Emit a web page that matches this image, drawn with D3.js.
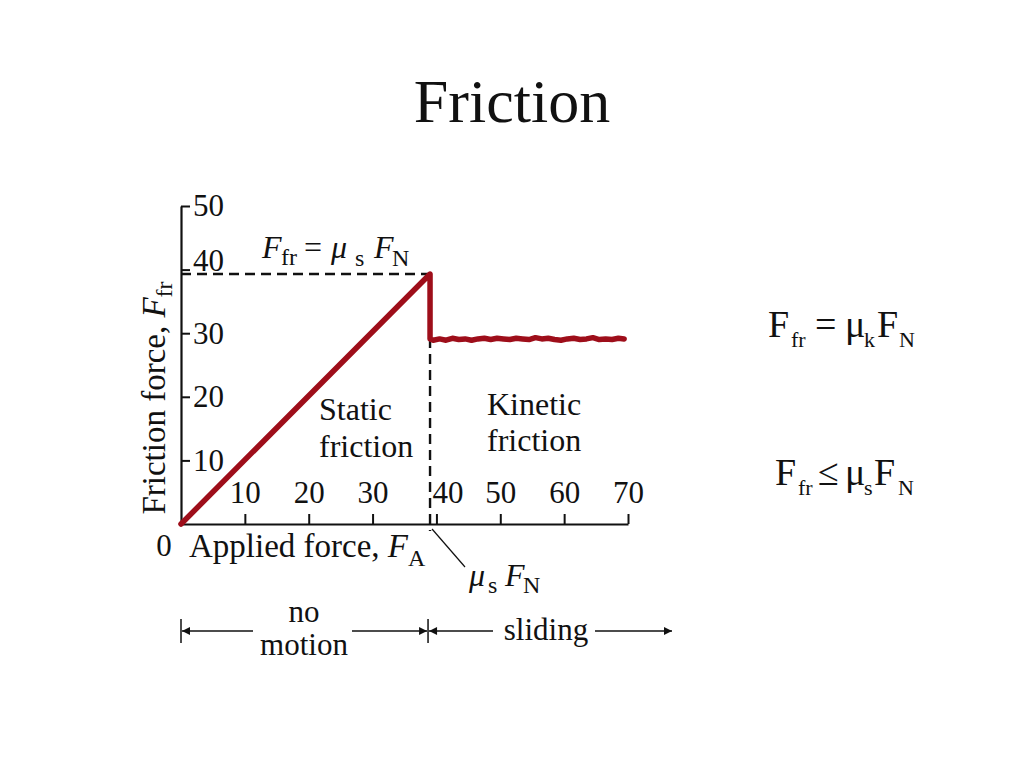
<!DOCTYPE html>
<html>
<head>
<meta charset="utf-8">
<script src="https://cdn.jsdelivr.net/npm/d3@7"></script>
<style>
  html, body { margin: 0; padding: 0; background: #fff; }
  svg { display: block; }
  text { font-family: "Liberation Serif", "Times New Roman", serif; fill: #111; }
</style>
</head>
<body>
<svg id="chart" width="1024" height="768"></svg>
<script>
// ---- data ----
const xTicks = [10, 20, 30, 40, 50, 60, 70];
const yTicks = [10, 20, 30, 40, 50];
const staticX = [0, 39.0];
const staticY = [0, 39.3];
const kineticX = [39.0, 39.5, 40.5, 41.5, 42.5, 43.5, 44.5, 45.5, 46.5, 47.5, 48.5, 49.5, 50.5, 51.5, 52.5, 53.5,
                  54.5, 55.5, 56.5, 57.5, 58.5, 59.5, 60.5, 61.5, 62.5, 63.5, 64.5, 65.5, 66.5, 67.5, 68.5, 69.4];
const kineticY = [29.1, 28.9, 29.1, 28.9, 29.2, 29.0, 29.1, 28.9, 29.1, 29.2, 29.0, 29.2, 29.1, 29.0, 29.2, 29.1,
                  29.0, 29.3, 29.1, 29.2, 29.0, 28.9, 29.1, 29.2, 29.0, 29.1, 29.3, 29.0, 29.1, 29.0, 29.2, 29.1];
const staticPeak = 39.3;   // mu_s F_N
const breakX = 39.0;       // applied force at which sliding starts

const red = "#9e0e1a";
const svg = d3.select("#chart");

const x = d3.scaleLinear().domain([0, 70]).range([181, 628]);
const y = d3.scaleLinear().domain([0, 50]).range([524, 206]);

// Title
svg.append("text").attr("x", 512).attr("y", 122).attr("text-anchor", "middle")
  .style("font-size", "62px").text("Friction");

// Y axis (ticks inward, labels to the right)
const gy = svg.append("g").attr("transform", `translate(${x(0)},0)`)
  .call(d3.axisRight(y).tickValues(yTicks).tickSize(9).tickSizeOuter(0).tickPadding(3).tickFormat(d3.format("d")));
gy.select(".domain").attr("stroke", "#111").attr("stroke-width", 2.2);
gy.selectAll(".tick line").attr("stroke", "#111").attr("stroke-width", 2);
gy.selectAll(".tick text").style("font-size", "31px").attr("fill", "#111").attr("font-family", null)
  .attr("y", d => d === 40 ? -9 : 0);

// X axis (ticks inward/up, labels above)
const gx = svg.append("g").attr("transform", `translate(0,${y(0)})`)
  .call(d3.axisTop(x).tickValues(xTicks).tickSize(10).tickSizeOuter(0).tickPadding(11).tickFormat(d3.format("d")));
gx.select(".domain").attr("stroke", "#111").attr("stroke-width", 2.2);
gx.selectAll(".tick line").attr("stroke", "#111").attr("stroke-width", 2);
gx.selectAll(".tick text").style("font-size", "31px").attr("fill", "#111").attr("font-family", null)
  .attr("dx", d => d === 40 ? 11 : 0);

// origin label
svg.append("text").attr("x", 164).attr("y", 556).attr("text-anchor", "middle")
  .style("font-size", "31px").text("0");

// Dashed guides
svg.append("line").attr("x1", x(0)).attr("x2", x(breakX)).attr("y1", y(staticPeak)).attr("y2", y(staticPeak))
  .attr("stroke", "#111").attr("stroke-width", 2.4).attr("stroke-dasharray", "10,6");
svg.append("line").attr("x1", x(breakX)).attr("x2", x(breakX)).attr("y1", y(staticPeak)).attr("y2", y(0) + 7)
  .attr("stroke", "#111").attr("stroke-width", 2.4).attr("stroke-dasharray", "10,6");

// Friction curve
const pts = staticX.map((d, i) => [d, staticY[i]])
  .concat(kineticX.map((d, i) => [d, kineticY[i]]));
const line = d3.line().x(d => x(d[0])).y(d => y(d[1]));
svg.append("path").attr("d", line(pts)).attr("fill", "none")
  .attr("stroke", red).attr("stroke-width", 5.5).attr("stroke-linejoin", "round").attr("stroke-linecap", "round");

// Y axis label
const ylab = svg.append("text").attr("transform", "translate(165,398) rotate(-90)")
  .attr("text-anchor", "middle").style("font-size", "33px");
ylab.append("tspan").text("Friction force, ");
ylab.append("tspan").style("font-style", "italic").text("F");
ylab.append("tspan").attr("dy", 7).style("font-size", "24px").text("fr");

// X axis label
const xlab = svg.append("text").attr("x", 189).attr("y", 557).style("font-size", "33px");
xlab.append("tspan").text("Applied force, ");
xlab.append("tspan").style("font-style", "italic").text("F");
xlab.append("tspan").attr("dy", 9).style("font-size", "24px").text("A");

// helper: place pieces of a formula explicitly
function pieces(list) {
  list.forEach(p => {
    svg.append("text").attr("x", p[0]).attr("y", p[1])
      .style("font-size", p[3] + "px").style("font-style", p[4] ? "italic" : "normal").text(p[2]);
  });
}
// In-chart equation F_fr = mu_s F_N
pieces([
  [262, 258, "F", 32, true], [281, 265, "fr", 24, false], [304, 258, "=", 32, false],
  [331, 258, "μ", 32, true], [355, 266, "s", 24, false], [374, 258, "F", 32, true], [392, 266, "N", 24, false]
]);

// Region labels
function twoLine(xp, y1, y2, a, b) {
  svg.append("text").attr("x", xp).attr("y", y1).style("font-size", "32px").text(a);
  svg.append("text").attr("x", xp).attr("y", y2).style("font-size", "32px").text(b);
}
twoLine(319, 420, 457, "Static", "friction");
twoLine(487, 415, 451, "Kinetic", "friction");

// Leader to mu_s F_N
svg.append("line").attr("x1", x(breakX) + 2).attr("y1", y(0) + 5).attr("x2", 465).attr("y2", 567)
  .attr("stroke", "#111").attr("stroke-width", 1.2);
pieces([
  [469, 586, "μ", 32, true], [488, 593, "s", 24, false], [505, 586, "F", 32, true], [523, 593, "N", 24, false]
]);

// Bottom motion arrows
const defs = svg.append("defs");
defs.append("marker").attr("id", "ah").attr("viewBox", "0 0 10 10").attr("refX", 10).attr("refY", 5)
  .attr("markerWidth", 14).attr("markerHeight", 8).attr("markerUnits", "userSpaceOnUse").attr("orient", "auto")
  .append("path").attr("d", "M0,0 L10,5 L0,10 z").attr("fill", "#111");
const ay = 631;
const bx0 = x(0), bx1 = x(breakX) - 2;
[bx0, bx1].forEach(bx => svg.append("line").attr("x1", bx).attr("x2", bx).attr("y1", ay - 12).attr("y2", ay + 12)
  .attr("stroke", "#111").attr("stroke-width", 1.5));
function arrow(xa, xb) {
  svg.append("line").attr("x1", xa).attr("x2", xb).attr("y1", ay).attr("y2", ay)
    .attr("stroke", "#111").attr("stroke-width", 1.5).attr("marker-end", "url(#ah)");
}
arrow(253, bx0 + 1);
arrow(352, bx1 - 1);
arrow(493, bx1 + 1);
arrow(595, 672);
svg.append("text").attr("x", 304).attr("y", 622).attr("text-anchor", "middle").style("font-size", "31px").text("no");
svg.append("text").attr("x", 304).attr("y", 655).attr("text-anchor", "middle").style("font-size", "31px").text("motion");
svg.append("text").attr("x", 546).attr("y", 640).attr("text-anchor", "middle").style("font-size", "31px").text("sliding");

// Right-side equations
pieces([
  [768, 337, "F", 38, false], [791, 347, "fr", 22, false], [815, 337, "=", 38, false],
  [845, 337, "μ", 38, false], [864, 347, "k", 22, false], [877, 337, "F", 38, false], [899, 347, "N", 22, false]
]);
pieces([
  [775, 485, "F", 38, false], [798, 495, "fr", 22, false], [818, 485, "≤", 38, false],
  [845, 485, "μ", 38, false], [864, 495, "s", 22, false], [874, 485, "F", 38, false], [898, 495, "N", 22, false]
]);
</script>
</body>
</html>
